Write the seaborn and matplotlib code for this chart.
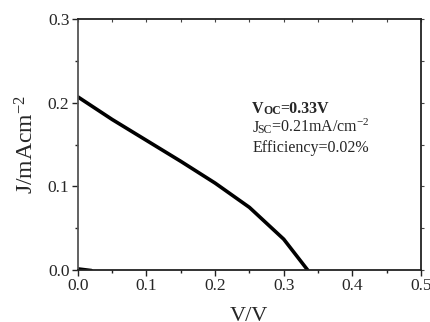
import matplotlib
matplotlib.use('Agg')
import matplotlib.pyplot as plt
import seaborn as sns
import pandas as pd
from matplotlib.ticker import MultipleLocator, FormatStrFormatter

# J-V data
voltage = [0.0, 0.05, 0.1, 0.15, 0.2, 0.25, 0.3, 0.335]
current = [0.207, 0.180, 0.155, 0.130, 0.104, 0.075, 0.037, 0.0]
dark_v = [0.0, 0.01, 0.02]
dark_j = [0.002, 0.001, 0.0]

df = pd.DataFrame({'V': voltage, 'J': current})
dark_df = pd.DataFrame({'V': dark_v, 'J': dark_j})

sns.set_style('ticks')
plt.rcParams['font.family'] = ['Liberation Serif', 'DejaVu Serif']
plt.rcParams['mathtext.fontset'] = 'custom'
plt.rcParams['mathtext.rm'] = 'Liberation Serif'
plt.rcParams['mathtext.it'] = 'Liberation Serif:italic'

fig = plt.figure(figsize=(4.3, 3.22), dpi=100)
ax = fig.add_axes([0.181, 0.161, 0.798, 0.780])

sns.lineplot(x='V', y='J', data=df, color='black', linewidth=2.6, ax=ax)
sns.lineplot(x='V', y='J', data=dark_df, color='black', linewidth=2.0, ax=ax)

ax.set_xlim(0, 0.5)
ax.set_ylim(0, 0.3)
ax.xaxis.set_major_locator(MultipleLocator(0.1))
ax.xaxis.set_minor_locator(MultipleLocator(0.05))
ax.yaxis.set_major_locator(MultipleLocator(0.1))
ax.yaxis.set_minor_locator(MultipleLocator(0.05))
ax.xaxis.set_major_formatter(FormatStrFormatter('%.1f'))
ax.yaxis.set_major_formatter(FormatStrFormatter('%.1f'))

ax.tick_params(which='both', direction='out', width=1.0, color='#222222',
               labelsize=12.5, pad=2)
ax.tick_params(which='major', length=4)
ax.tick_params(which='minor', length=2.5)

# secondary axes only for the faint top / right ticks
top = ax.secondary_xaxis('top')
top.xaxis.set_major_locator(MultipleLocator(0.05))
top.tick_params(direction='in', length=2, width=0.8, color='#444444', labeltop=False)
top.spines['top'].set_visible(False)
right = ax.secondary_yaxis('right')
right.yaxis.set_major_locator(MultipleLocator(0.05))
right.tick_params(direction='out', length=2, width=0.8, color='#444444', labelright=False)
right.spines['right'].set_visible(False)

for s in ax.spines.values():
    s.set_linewidth(1.3)
    s.set_color('#222222')
    s.set_visible(True)
ax.spines['left'].set_color('#555555')

ax.set_xlabel('V/V', fontsize=16, labelpad=9)
ax.set_ylabel(r'J/mAcm$^{-2}$', fontsize=17, labelpad=7)

# annotation block
t1 = ax.text(0.254, 0.1876, 'V', fontsize=11.5, fontweight='bold')
t2 = ax.annotate('OC', xy=(1, 0), xycoords=t1, xytext=(-0.5, 0), textcoords='offset points',
                 fontsize=8.5, fontweight='bold', va='bottom')
ax.annotate('=0.33V', xy=(1, 0), xycoords=t2, xytext=(-0.5, 0), textcoords='offset points',
            fontsize=11.5, fontweight='bold', va='bottom')

t3 = ax.text(0.254, 0.1645, 'J', fontsize=11.5)
t4 = ax.annotate('SC', xy=(1, 0), xycoords=t3, xytext=(-0.5, 0), textcoords='offset points',
                 fontsize=8.5, va='bottom')
ax.annotate(r'=0.21mA/cm$^{-2}$', xy=(1, 0), xycoords=t4, xytext=(-0.5, 0),
            textcoords='offset points', fontsize=11.5, va='bottom')

ax.text(0.254, 0.1415, 'Efficiency=0.02%', fontsize=11.5)

fig.savefig('out.png', dpi=100)
